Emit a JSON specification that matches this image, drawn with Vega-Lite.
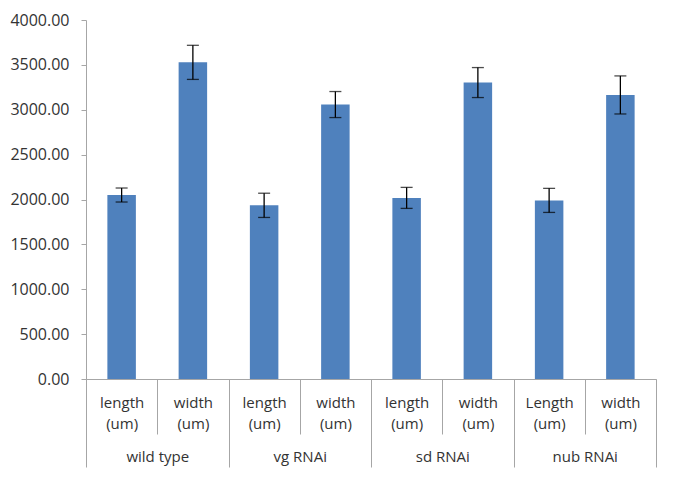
{
  "$schema": "https://vega.github.io/schema/vega-lite/v6.json",
  "width": 570,
  "height": 359,
  "autosize": {"type": "none"},
  "padding": {"left": 86, "top": 20, "right": 21, "bottom": 99},
  "background": "white",
  "config": {
    "view": {"stroke": null},
    "font": "Open Sans",
    "axis": {
      "labelFont": "Open Sans",
      "labelFontSize": 15,
      "labelColor": "#333333",
      "domainColor": "#A6A6A6",
      "tickColor": "#A6A6A6",
      "domainWidth": 1,
      "tickWidth": 1,
      "grid": false
    }
  },
  "data": {
    "values": [
      {"group": "wild type", "cat": "wild type|length (um)", "value": 2050, "err": 78},
      {"group": "wild type", "cat": "wild type|width (um)", "value": 3528, "err": 190},
      {"group": "vg RNAi", "cat": "vg RNAi|length (um)", "value": 1935, "err": 135},
      {"group": "vg RNAi", "cat": "vg RNAi|width (um)", "value": 3058, "err": 145},
      {"group": "sd RNAi", "cat": "sd RNAi|length (um)", "value": 2018, "err": 117},
      {"group": "sd RNAi", "cat": "sd RNAi|width (um)", "value": 3303, "err": 167},
      {"group": "nub RNAi", "cat": "nub RNAi|Length (um)", "value": 1990, "err": 134},
      {"group": "nub RNAi", "cat": "nub RNAi|width (um)", "value": 3165, "err": 212}
    ]
  },
  "layer": [
    {
      "layer": [
        {
          "mark": {"type": "bar", "color": "#4F81BD", "width": {"band": 0.4}},
          "encoding": {
            "x": {
              "field": "cat",
              "type": "nominal",
              "sort": null,
              "title": null,
              "scale": {"padding": 0},
              "axis": {
                "tickBand": "extent",
                "tickSize": 55,
                "labelPadding": -32,
                "labelBaseline": "middle",
                "labelLineHeight": 21.6,
                "labelAngle": 0,
                "labelExpr": "isString(datum.value) ? split(split(datum.value, '|')[1], ' ') : ''"
              }
            },
            "y": {
              "field": "value",
              "type": "quantitative",
              "title": null,
              "scale": {"domain": [0, 4000], "nice": false},
              "axis": {
                "values": [0, 500, 1000, 1500, 2000, 2500, 3000, 3500, 4000],
                "format": ".2f",
                "tickSize": 5,
                "labelPadding": 12,
                "labelFontSize": 16
              }
            }
          }
        },
        {
          "mark": {
            "type": "errorbar",
            "ticks": {"size": 12, "color": "#000000", "thickness": 1.3},
            "rule": {"color": "#000000", "strokeWidth": 1.3}
          },
          "encoding": {
            "x": {"field": "cat", "type": "nominal", "sort": null, "title": null},
            "y": {"field": "value", "type": "quantitative", "title": null},
            "yError": {"field": "err"}
          }
        }
      ]
    },
    {
      "mark": {"type": "bar", "opacity": 0},
      "encoding": {
        "x": {
          "field": "group",
          "type": "nominal",
          "sort": null,
          "title": null,
          "scale": {"padding": 0},
          "axis": {
            "orient": "bottom",
            "tickBand": "extent",
            "tickSize": 88,
            "domain": false,
            "labelPadding": -10.3,
            "labelBaseline": "middle",
            "labelAngle": 0
          }
        },
        "y": {"field": "value", "type": "quantitative", "title": null}
      }
    }
  ],
  "resolve": {"scale": {"x": "independent"}, "axis": {"x": "independent"}}
}
